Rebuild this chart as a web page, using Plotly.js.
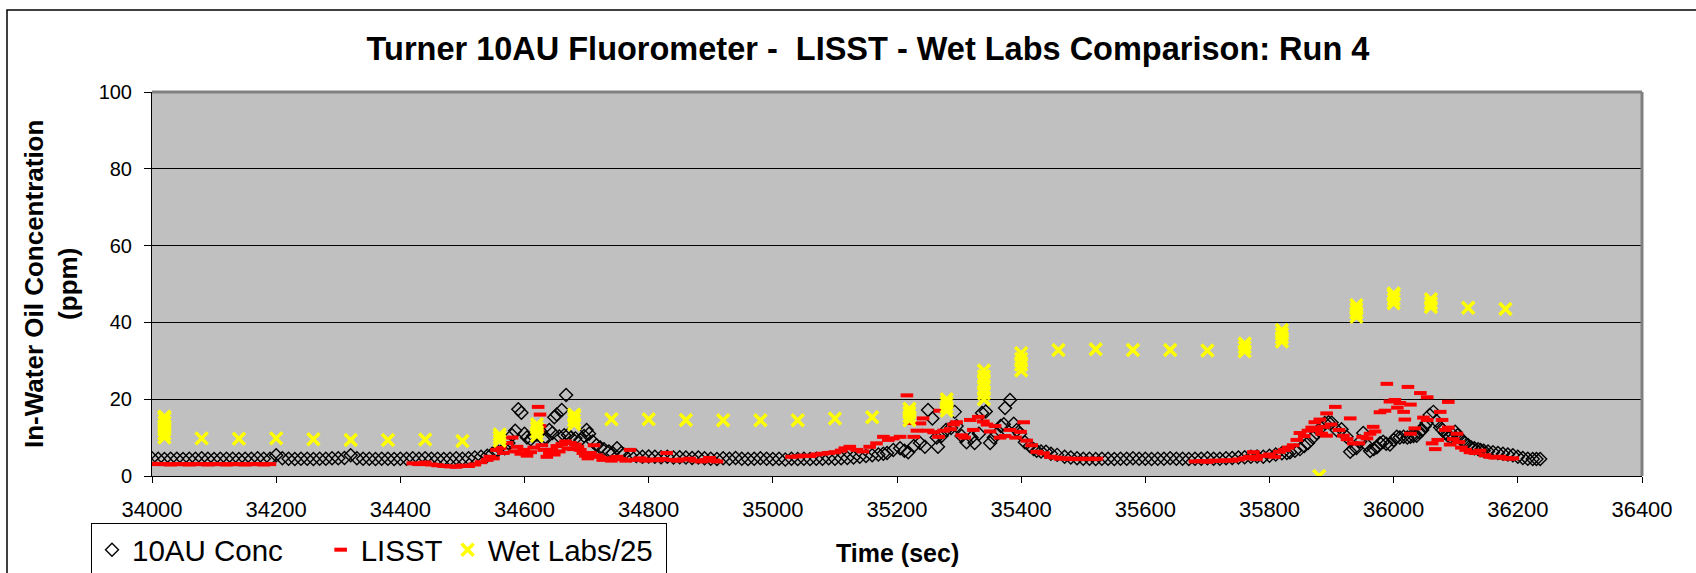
<!DOCTYPE html>
<html>
<head>
<meta charset="utf-8">
<script src="https://cdn.plot.ly/plotly-3.0.1.min.js"></script>
<style>html,body{margin:0;padding:0;background:#fff;}#chart{width:1696px;height:573px;}</style>
</head>
<body>
<div id="chart"></div>
<script>
// ---- Data ----
const titleText = "Turner 10AU Fluorometer -\u00A0 LISST - Wet Labs Comparison: Run 4";
const xTickVals = [34000,34200,34400,34600,34800,35000,35200,35400,35600,35800,36000,36200,36400];
const yTickVals = [0,20,40,60,80,100];
const seriesNames = ['10AU Conc', 'LISST', 'Wet Labs/25'];

// 10AU Conc (black open diamonds)
const t10 = [
34000,34010,34020,34030,34040,34050,34060,34070,34080,34090,34100,34110,34120,34130,34140,34150,34160,34170,34180,34190,
34200,34210,34220,34230,34240,34250,34260,34270,34280,34290,34300,34310,34320,34330,34340,34350,34360,34370,34380,34390,
34400,34410,34420,34430,34440,34450,34460,34470,34480,34490,34500,34510,34520,34530,34540,
34548,34556,34562,34568,34574,34580,34585,34590,34595,34600,34604,34610,34614,34620,34626,34630,34635,34640,34645,34648,
34652,34656,34660,34664,34667,34670,34675,34682,34690,34696,34700,34704,34710,34716,34722,34728,34736,34742,34749,34756,
34760,34770,34780,34790,34800,34810,34820,34830,34840,34850,34860,34870,34880,34890,34900,34910,34920,34930,34940,34950,
34960,34970,34980,34990,35000,35010,35020,35030,35040,35050,35060,35070,35080,35090,35100,35110,35120,35130,35140,35150,
35160,35170,35178,
35184,35194,35205,35212,35218,35227,35237,35245,35250,35257,35264,35266,35272,35279,35287,35293,35296,35304,35312,35320,
35325,35332,35337,35343,35350,35356,35361,35367,35372,35374,35382,35388,35393,35398,35406,35414,35420,35425,35432,35440,
35448,35458,
35470,35480,35490,35500,35510,35520,35530,35540,35550,35560,35570,35580,35590,35600,35610,35620,35630,35640,35650,35660,
35670,35680,35690,35700,35710,35720,35730,35740,35750,35760,35770,35780,35790,35800,35810,35820,35828,
35833,35841,35849,35856,35862,35870,35876,35883,35889,35895,35900,35908,35916,35924,35930,35935,35940,35946,35951,35957,
35962,35968,35973,35978,35983,35988,35994,36000,36005,36010,36016,36022,36027,36032,36037,36042,36046,36050,36053,36058,
36064,36069,36075,36079,36083,36087,36091,36095,36099,36103,36107,36111,36115,36120,36125,36130,36136,36140,36145,36152,
36160,36168,36176,36184,36192,36200,36208,36216,36224,36230,36236
];
const v10 = [
4.6,4.5,4.4,4.5,4.5,4.4,4.5,4.5,4.6,4.5,4.4,4.5,4.5,4.5,4.4,4.5,4.5,4.6,4.5,4.5,
5.4,4.6,4.5,4.4,4.5,4.5,4.4,4.5,4.5,4.6,4.6,4.7,5.4,4.6,4.5,4.5,4.4,4.5,4.5,4.4,
4.5,4.5,4.6,4.5,4.6,4.5,4.5,4.4,4.5,4.6,4.5,4.6,4.8,5.0,5.3,
5.8,6.6,8.0,7.2,8.6,10.6,11.8,17.4,16.5,11.0,10.0,9.6,10.4,10.8,11.6,9.6,9.9,12.0,11.2,15.3,
16.0,10.3,17.2,10.6,21.1,10.7,10.0,9.8,9.4,10.4,12.0,11.0,9.0,8.0,7.4,7.0,6.4,6.0,7.2,6.0,
5.6,5.4,5.2,5.0,5.1,5.0,4.9,5.0,4.8,4.9,4.8,4.7,4.8,4.6,4.5,4.4,4.6,4.5,4.7,4.5,
4.4,4.5,4.6,4.5,4.4,4.5,4.3,4.5,4.4,4.5,4.4,4.5,4.5,4.6,4.5,4.6,4.7,4.8,5.0,5.2,
5.4,5.6,5.8,
6.0,6.8,7.2,6.6,6.2,7.8,8.6,7.6,17.2,15.0,10.0,7.6,10.5,12.0,12.5,16.7,13.0,10.4,8.8,10.0,
8.6,11.0,16.4,16.8,8.6,10.0,11.0,13.0,13.5,17.7,19.8,13.6,12.0,11.0,8.8,7.8,7.0,6.6,6.4,6.3,
5.8,5.5,
5.0,4.8,4.6,4.5,4.5,4.4,4.5,4.5,4.4,4.5,4.5,4.6,4.5,4.5,4.4,4.5,4.5,4.6,4.5,4.5,
4.4,4.5,4.5,4.6,4.5,4.5,4.6,4.7,4.8,4.9,5.0,5.1,5.0,5.3,5.6,5.9,6.0,
6.2,6.6,7.0,7.8,8.6,10.0,11.2,12.6,13.8,14.0,13.9,12.0,12.2,10.2,6.3,7.0,7.3,9.0,11.2,8.0,
6.5,7.0,7.5,8.5,8.9,8.4,8.2,9.4,10.2,10.0,10.2,10.0,10.2,10.4,10.5,11.4,12.0,13.0,13.8,15.9,
16.7,14.3,12.6,12.0,11.2,10.6,10.2,10.8,11.5,10.6,9.8,9.2,8.6,8.0,7.4,7.2,7.0,6.8,6.6,6.4,
6.2,6.0,5.8,5.6,5.4,5.0,4.7,4.5,4.4,4.4,4.4
];

// LISST (red dashes)
const tLisst = [
34000,34010,34020,34030,34040,34050,34060,34070,34080,34090,34100,34110,34120,34130,34140,34150,34160,34170,34180,34190,
34420,34430,34440,34450,34460,34470,34480,34490,34500,34510,34520,34530,34540,
34544,34550,34555,34561,34566,34572,34580,34584,34588,34594,34599,34604,34610,34615,34622,34625,34625,34622,34628,34631,
34636,34640,34644,34648,34652,34656,34660,34666,34670,34674,34678,34682,34686,34690,34694,34698,34702,34706,34712,34716,
34720,34726,34733,34740,34749,34756,34763,34770,34778,34786,
34795,34805,34815,34822,34829,34838,34846,34855,34866,34875,34885,34893,34898,34905,34910,
35030,35040,35050,35060,35070,35080,35090,35100,35110,35116,35124,35135,35145,35156,35167,35178,35186,35194,35205,35216,
35221,35227,35232,35237,35242,35250,35259,35267,35269,35275,35286,35291,35296,35304,35309,35318,35323,35331,35339,35345,
35350,35358,35366,35374,35382,35391,35399,35404,35409,35417,35425,35436,35447,35455,35463,35472,35481,35490,35499,35508,
35515,35522,
35680,35690,35700,35710,35720,35730,35740,35750,35760,35768,35774,35779,35788,35800,35808,35816,35824,35830,35838,35844,
35849,35856,35862,35868,35873,35876,35881,35884,35888,35892,35892,35899,35906,35912,35919,35925,35930,35935,35944,35950,
35957,35962,35967,35970,35978,35986,35989,35994,36002,36006,36010,36016,36018,36023,36027,36027,36034,36043,36048,36054,
36054,36062,36067,36071,36075,36078,36083,36088,36088,36091,36096,36102,36105,36109,36116,36123,36131,36139,36147,36155,
36163,36171,36180,36186,36192
];
const vLisst = [
3.2,3.1,3.1,3.0,3.1,3.1,3.0,3.1,3.1,3.0,3.1,3.1,3.0,3.1,3.1,3.0,3.1,3.1,3.0,3.1,
3.3,3.1,3.5,3.0,2.8,2.6,2.5,2.4,2.7,2.6,3.0,3.6,4.2,
5.0,4.6,6.8,7.3,6.0,8.6,10.0,6.4,7.6,5.8,6.8,5.3,6.2,7.4,18.0,16.0,13.0,11.7,8.0,6.8,
5.0,6.0,6.8,5.6,7.8,6.4,8.3,9.0,7.2,8.6,7.0,8.2,7.6,6.8,6.0,5.3,4.6,6.0,8.0,5.4,
5.0,4.2,4.6,4.0,5.0,4.4,4.0,6.8,4.2,4.6,
4.0,4.3,4.1,4.4,6.0,4.2,4.0,4.3,4.5,4.0,3.8,4.2,4.7,4.0,3.8,
5.0,5.1,5.3,5.2,5.6,5.8,6.0,6.2,6.6,7.2,7.6,6.8,6.4,7.6,8.5,10.2,9.4,9.8,10.2,21.0,
13.8,10.2,11.8,13.7,15.0,11.8,11.4,10.2,17.0,11.8,12.2,13.4,14.0,10.6,10.0,14.6,12.0,15.4,14.2,13.4,
11.6,13.0,10.0,10.4,12.0,10.0,11.5,14.0,9.2,8.0,6.3,5.9,5.0,4.8,4.5,4.6,4.4,4.5,4.4,4.5,
4.4,4.5,
3.8,3.9,3.7,4.0,3.9,4.1,4.0,4.3,4.6,5.0,6.2,4.4,5.2,5.6,5.0,6.3,6.8,7.4,8.0,9.4,
11.2,10.4,11.8,12.6,14.0,12.0,14.7,11.0,12.8,16.3,10.5,13.4,18.0,12.0,10.5,9.6,15.0,8.5,8.5,10.2,
9.8,11.0,12.8,11.6,16.6,17.0,24.0,19.4,19.8,17.8,19.0,16.7,14.7,23.2,18.6,11.0,12.4,21.6,15.2,20.5,
14.6,8.5,7.0,9.4,16.7,14.6,12.0,19.3,12.6,8.2,9.6,11.0,8.8,7.4,6.8,6.2,6.0,6.6,5.4,5.0,
4.8,5.0,4.7,4.5,4.6
];

// Wet Labs/25 (yellow crosses)
const tWet = [
34020,34020,34020,34020,34020,34020,34020,34080,34140,34200,34260,34320,34380,34440,34500,
34560,34560,34560,34620,34620,34620,34620,34680,34680,34680,34680,
34740,34800,34860,34920,34980,35040,35100,35160,
35220,35220,35220,35220,35280,35280,35280,35280,
35340,35340,35340,35340,35340,35340,35400,35400,35400,35400,
35460,35520,35580,35640,35700,35760,35760,35760,35820,35820,35820,35820,35880,
35940,35940,35940,35940,36000,36000,36000,36000,36060,36060,36060,36120,36180
];
const vWet = [
10,11,12,13,14,15,15.5,9.8,9.7,9.8,9.6,9.4,9.4,9.5,9.1,
9.2,10,10.8,10.5,11.5,12.5,13.5,13.5,14.5,15.5,16,
14.8,14.8,14.6,14.5,14.5,14.5,15,15.3,
14.5,15.5,16.5,17.5,17,18,19,20,
20,21.5,23,24.5,26,27.5,27.5,29,30.5,32,
32.8,33,32.8,32.8,32.7,32.5,33.5,34.5,35,36,37,38,0,
41.5,42.5,43.5,44.5,45,46,47,47.5,44,45,46,43.8,43.5
];

const FONT = "Arial, 'Liberation Sans', sans-serif";
const NB = '\u00A0';

const traces = [
  {x:t10, y:v10, type:'scatter', mode:'markers', name: seriesNames[0] + NB.repeat(4),
   marker:{symbol:'diamond-open', size:10, color:'#000', line:{color:'#000', width:1.4}}},
  {x:tLisst, y:vLisst, type:'scatter', mode:'markers', name: seriesNames[1],
   marker:{symbol:'line-ew', size:9, color:'#ff0000', line:{color:'#ff0000', width:4}}},
  {x:tWet, y:vWet, type:'scatter', mode:'markers', name: seriesNames[2] + NB,
   marker:{symbol:'x-thin', size:12, color:'#ffff00', line:{color:'#ffff00', width:3.5}}}
];

const L = 152, R = 1642, T = 92, B = 476, W = 1696, H = 573;
const pw = R - L, ph = B - T;
const px = v => (v - L) / pw;
const py = v => (B - v) / ph;

const layout = {
  width: W, height: H,
  margin: {l: L, r: W - R, t: T, b: H - B, pad: 0},
  paper_bgcolor: '#ffffff',
  plot_bgcolor: '#c0c0c0',
  font: {family: FONT, color: '#000'},
  title: {text: titleText, x: 868 / W, xref: 'container', xanchor: 'center',
          y: 1 - 49 / H, yref: 'container', yanchor: 'middle',
          font: {family: FONT, size: 32.5, weight: 'bold', color: '#000'}},
  xaxis: {range: [34000, 36400], tickvals: xTickVals, ticktext: xTickVals.map(String),
          showgrid: false, zeroline: false, showline: true, linecolor: '#000', linewidth: 1,
          ticks: 'outside', ticklen: 6, tickcolor: '#000', tickwidth: 1,
          ticklabelstandoff: 8,
          tickfont: {family: FONT, size: 22, color: '#000'}, automargin: false, fixedrange: true},
  yaxis: {range: [0, 100], tickvals: yTickVals, ticktext: yTickVals.map(String),
          showgrid: true, gridcolor: '#000', gridwidth: 1, zeroline: false,
          showline: true, linecolor: '#000', linewidth: 1,
          ticks: 'outside', ticklen: 7, tickcolor: '#000', tickwidth: 1,
          ticklabelstandoff: 8,
          tickfont: {family: FONT, size: 20, color: '#000'}, automargin: false, fixedrange: true},
  showlegend: true,
  legend: {orientation: 'h', xref: 'container', yref: 'container',
           x: 91 / W, xanchor: 'left', y: 1 - 523 / H, yanchor: 'top',
           bgcolor: '#ffffff', bordercolor: '#000', borderwidth: 1,
           font: {family: FONT, size: 29.5, color: '#000'}, itemsizing: 'trace'},
  annotations: [
    {text: 'In-Water Oil Concentration<br>(ppm)', xref: 'paper', yref: 'paper',
     x: px(51), y: py(284), xanchor: 'center', yanchor: 'middle', textangle: -90,
     showarrow: false, font: {family: FONT, size: 26, weight: 'bold', color: '#000'}},
    {text: 'Time (sec)', xref: 'paper', yref: 'paper',
     x: px(897), y: py(553), xanchor: 'center', yanchor: 'middle',
     showarrow: false, font: {family: FONT, size: 25, weight: 'bold', color: '#000'}}
  ],
  shapes: [
    // outer chart frame
    {type: 'rect', xref: 'paper', yref: 'paper', x0: px(7), x1: px(1720), y0: py(600), y1: py(10),
     line: {color: '#000', width: 1.5}, fillcolor: 'rgba(0,0,0,0)', layer: 'above'},
    // plot area gray border (top / right)
    {type: 'line', xref: 'paper', yref: 'paper', x0: 0, x1: 1, y0: 1, y1: 1,
     line: {color: '#808080', width: 3}, layer: 'above'},
    {type: 'line', xref: 'paper', yref: 'paper', x0: 1, x1: 1, y0: 0, y1: 1,
     line: {color: '#808080', width: 3}, layer: 'above'}
  ]
};

Plotly.newPlot('chart', traces, layout, {displayModeBar: false, staticPlot: true});
</script>
</body>
</html>
